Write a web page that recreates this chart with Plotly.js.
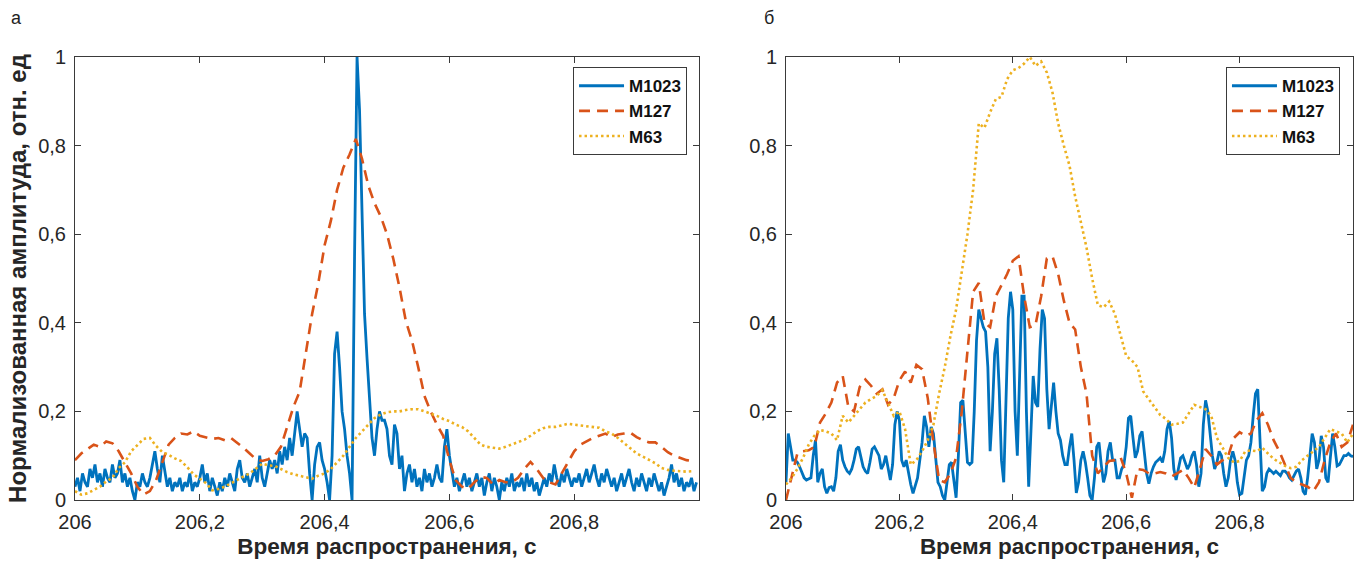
<!DOCTYPE html>
<html>
<head>
<meta charset="utf-8">
<script src="https://cdn.plot.ly/plotly-3.0.1.min.js"></script>
<style>html,body{margin:0;padding:0;background:#fff;}#chart{width:1365px;height:566px;}</style>
</head>
<body>
<div id="chart"></div>
<script>
// ---------- data ----------
const seriesNames = ['M1023', 'M127', 'M63'];
const xTickValsA = [206, 206.2, 206.4, 206.6, 206.8];
const xTickTextA = ['206', '206,2', '206,4', '206,6', '206,8'];
const xTickValsB = [206, 206.2, 206.4, 206.6, 206.8, 207];
const xTickTextB = ['206', '206,2', '206,4', '206,6', '206,8', '207'];
const yTickVals = [0, 0.2, 0.4, 0.6, 0.8, 1];
const yTickText = ['0', '0,2', '0,4', '0,6', '0,8', '1'];
const xTitle = 'Время распространения, с';
const yTitle = 'Нормализованная амплитуда, отн. ед';
const panelLabels = ['а', 'б'];

// time grids: start and sampling step (s)
const tStart = 206;
const stepFine = 0.004;
const stepCoarse = 0.01;

// Panel а
const blueA = [
0.03,0.05,0.02,0.06,0.04,0.03,0.07,0.05,0.08,0.04,
0.06,0.03,0.07,0.05,0.04,0.08,0.05,0.06,0.09,0.04,
0.06,0.03,0.05,0.02,0.00,0.04,0.03,0.06,0.04,0.03,
0.05,0.08,0.11,0.07,0.04,0.10,0.06,0.03,0.05,0.02,
0.04,0.03,0.05,0.02,0.04,0.03,0.06,0.02,0.04,0.03,
0.05,0.08,0.04,0.06,0.02,0.05,0.03,0.01,0.04,0.02,
0.05,0.03,0.06,0.04,0.02,0.07,0.09,0.05,0.04,0.06,
0.03,0.05,0.07,0.04,0.10,0.05,0.03,0.06,0.09,0.07,
0.09,0.06,0.11,0.08,0.12,0.09,0.14,0.10,0.15,0.20,
0.16,0.12,0.15,0.14,0.06,0.00,0.08,0.12,0.13,0.09,
0.07,0.04,0.00,0.10,0.33,0.38,0.30,0.20,0.16,0.10,
0.06,0.00,0.55,1.00,0.88,0.62,0.42,0.32,0.22,0.14,
0.10,0.16,0.20,0.18,0.18,0.16,0.10,0.08,0.17,0.15,
0.07,0.10,0.02,0.06,0.08,0.04,0.07,0.03,0.05,0.02,
0.07,0.04,0.06,0.03,0.05,0.08,0.05,0.04,0.12,0.16,
0.10,0.06,0.03,0.05,0.02,0.04,0.06,0.03,0.05,0.02,
0.04,0.06,0.03,0.05,0.01,0.04,0.06,0.02,0.05,0.03,
0.00,0.04,0.02,0.05,0.03,0.06,0.02,0.04,0.03,0.05,
0.02,0.06,0.03,0.05,0.02,0.04,0.01,0.03,0.05,0.03,
0.06,0.04,0.08,0.05,0.03,0.06,0.04,0.07,0.05,0.03,
0.05,0.04,0.06,0.03,0.05,0.07,0.04,0.06,0.08,0.05,
0.03,0.06,0.04,0.07,0.05,0.03,0.05,0.02,0.04,0.06,
0.03,0.05,0.07,0.04,0.02,0.05,0.03,0.06,0.04,0.02,
0.05,0.03,0.06,0.04,0.02,0.04,0.01,0.03,0.05,0.08,
0.04,0.06,0.03,0.05,0.02,0.04,0.03,0.05,0.02,0.04
];
const redA = [
0.09,0.105,0.115,0.125,0.12,0.132,0.128,0.11,0.085,0.06,
0.03,0.012,0.02,0.045,0.085,0.125,0.14,0.15,0.148,0.155,
0.145,0.142,0.138,0.14,0.135,0.14,0.13,0.118,0.105,0.092,
0.088,0.092,0.1,0.12,0.165,0.21,0.245,0.33,0.42,0.49,
0.575,0.63,0.7,0.75,0.78,0.815,0.77,0.71,0.67,0.64,
0.6,0.545,0.48,0.405,0.36,0.3,0.235,0.2,0.17,0.145,
0.09,0.045,0.03,0.025,0.04,0.052,0.05,0.035,0.045,0.04,
0.04,0.05,0.07,0.086,0.07,0.05,0.04,0.035,0.06,0.083,
0.11,0.125,0.132,0.14,0.145,0.15,0.142,0.148,0.15,0.152,
0.142,0.135,0.13,0.13,0.12,0.108,0.1,0.095,0.09,0.088
];
const yellowA = [
0.02,0.012,0.015,0.022,0.03,0.042,0.05,0.072,0.085,0.11,
0.125,0.138,0.14,0.122,0.108,0.102,0.094,0.088,0.074,0.058,
0.048,0.038,0.022,0.025,0.03,0.038,0.045,0.053,0.06,0.072,
0.082,0.078,0.077,0.07,0.063,0.058,0.055,0.052,0.048,0.055,
0.06,0.07,0.085,0.1,0.12,0.14,0.155,0.17,0.185,0.193,
0.198,0.2,0.2,0.203,0.205,0.205,0.2,0.195,0.19,0.183,
0.178,0.17,0.165,0.155,0.14,0.125,0.12,0.118,0.116,0.12,
0.125,0.13,0.136,0.145,0.155,0.162,0.165,0.165,0.168,0.172,
0.17,0.168,0.167,0.165,0.163,0.155,0.15,0.14,0.128,0.115,
0.105,0.098,0.09,0.083,0.072,0.068,0.066,0.065,0.064,0.065
];

// Panel б
const blueB = [
0.04,0.15,0.12,0.09,0.09,0.085,0.075,0.06,0.05,0.045,
0.048,0.05,0.1,0.135,0.04,0.06,0.07,0.03,0.015,0.028,
0.03,0.02,0.05,0.11,0.125,0.09,0.075,0.065,0.06,0.07,
0.09,0.115,0.12,0.1,0.075,0.065,0.06,0.085,0.115,0.12,
0.11,0.1,0.07,0.08,0.1,0.07,0.045,0.08,0.17,0.2,
0.18,0.09,0.075,0.09,0.06,0.035,0.015,0.03,0.05,0.09,
0.13,0.19,0.165,0.12,0.165,0.15,0.09,0.04,0.03,0.01,
0.0,0.04,0.08,0.085,0.04,0.005,0.1,0.22,0.225,0.15,
0.085,0.08,0.085,0.2,0.36,0.43,0.41,0.39,0.38,0.3,
0.11,0.2,0.33,0.365,0.25,0.09,0.04,0.2,0.41,0.47,
0.43,0.2,0.1,0.28,0.46,0.46,0.2,0.03,0.15,0.28,
0.22,0.21,0.34,0.43,0.41,0.25,0.16,0.22,0.265,0.2,
0.15,0.135,0.1,0.08,0.08,0.12,0.15,0.09,0.016,0.04,
0.09,0.11,0.085,0.05,0.01,0.0,0.05,0.12,0.13,0.08,
0.04,0.06,0.11,0.13,0.09,0.09,0.05,0.05,0.07,0.08,
0.12,0.185,0.19,0.14,0.095,0.11,0.145,0.155,0.11,0.06,
0.037,0.06,0.075,0.085,0.09,0.095,0.085,0.11,0.16,0.178,
0.14,0.07,0.045,0.07,0.095,0.1,0.085,0.07,0.08,0.1,
0.11,0.08,0.03,0.06,0.17,0.225,0.2,0.15,0.1,0.07,
0.085,0.11,0.1,0.06,0.03,0.05,0.09,0.11,0.09,0.04,
0.012,0.015,0.05,0.09,0.1,0.13,0.19,0.24,0.25,0.15,
0.02,0.03,0.06,0.07,0.065,0.06,0.065,0.06,0.055,0.065,
0.065,0.06,0.05,0.045,0.055,0.065,0.07,0.05,0.02,0.012,
0.05,0.11,0.15,0.13,0.07,0.09,0.145,0.12,0.05,0.04,
0.1,0.15,0.12,0.077,0.08,0.09,0.1,0.1,0.105,0.1,
0.098
];
const redB = [
0.0,0.05,0.105,0.11,0.112,0.12,0.175,0.195,0.22,0.265,
0.28,0.21,0.2,0.255,0.272,0.258,0.24,0.25,0.215,0.23,
0.27,0.29,0.265,0.305,0.295,0.23,0.13,0.045,0.04,0.06,
0.095,0.2,0.33,0.47,0.49,0.4,0.39,0.46,0.485,0.51,
0.54,0.55,0.46,0.39,0.395,0.46,0.545,0.55,0.51,0.45,
0.4,0.385,0.3,0.24,0.1,0.06,0.075,0.088,0.09,0.097,
0.06,0.005,0.07,0.068,0.06,0.06,0.063,0.06,0.053,0.06,
0.068,0.05,0.028,0.07,0.115,0.1,0.08,0.09,0.1,0.14,
0.153,0.145,0.15,0.18,0.196,0.17,0.135,0.11,0.08,0.05,
0.04,0.035,0.03,0.02,0.04,0.09,0.13,0.15,0.12,0.13,
0.17
];
const yellowB = [
0.035,0.05,0.07,0.095,0.125,0.145,0.158,0.155,0.15,0.135,
0.19,0.175,0.19,0.205,0.22,0.228,0.235,0.248,0.22,0.19,
0.2,0.16,0.08,0.09,0.11,0.135,0.17,0.24,0.3,0.37,
0.43,0.51,0.6,0.7,0.85,0.84,0.875,0.905,0.91,0.95,
0.97,0.975,0.985,1.0,0.98,0.99,0.965,0.92,0.85,0.8,
0.755,0.685,0.625,0.57,0.5,0.44,0.435,0.448,0.42,0.37,
0.325,0.315,0.3,0.245,0.228,0.21,0.192,0.183,0.17,0.172,
0.175,0.195,0.215,0.21,0.205,0.19,0.14,0.118,0.095,0.085,
0.088,0.11,0.112,0.11,0.118,0.105,0.093,0.085,0.077,0.072,
0.075,0.09,0.1,0.11,0.12,0.14,0.16,0.155,0.15,0.13,
0.15
];

// ---------- build ----------
function grid(n, step) { return Array.from({length: n}, (_, i) => +(tStart + i * step).toFixed(4)); }

const colors = ['#0072BD', '#D95319', '#EDB120'];
const lineStyles = [
  {color: colors[0], width: 2.8, dash: 'solid'},
  {color: colors[1], width: 2.6, dash: '11px,7px'},
  {color: colors[2], width: 2.6, dash: '2.5px,3px'}
];

const panelA = [[blueA, stepFine], [redA, stepCoarse], [yellowA, stepCoarse]];
const panelB = [[blueB, stepFine], [redB, stepCoarse], [yellowB, stepCoarse]];

const traces = [];
panelA.forEach(([ys, st], k) => traces.push({
  type: 'scatter', mode: 'lines', x: grid(ys.length, st), y: ys,
  name: seriesNames[k], line: lineStyles[k], xaxis: 'x', yaxis: 'y', legend: 'legend'
}));
panelB.forEach(([ys, st], k) => traces.push({
  type: 'scatter', mode: 'lines', x: grid(ys.length, st), y: ys,
  name: seriesNames[k], line: lineStyles[k], xaxis: 'x2', yaxis: 'y2', legend: 'legend2'
}));

const fam = '"Liberation Sans", Arial, Helvetica, sans-serif';
const axisCommon = {
  showline: true, mirror: 'ticks', linecolor: '#3a3a3a', linewidth: 1,
  ticks: 'inside', ticklen: 6, tickcolor: '#3a3a3a', tickwidth: 1,
  showgrid: false, zeroline: false, fixedrange: true,
  tickfont: {family: fam, size: 20, color: '#262626'}
};
const xTitleObj = {text: xTitle, font: {family: fam, size: 22.5, color: '#262626', weight: 'bold'}, standoff: 6};

const legendCommon = {
  bgcolor: '#ffffff', bordercolor: '#3a3a3a', borderwidth: 1,
  font: {family: fam, size: 17, color: '#111', weight: 'bold'},
  xanchor: 'right', yanchor: 'top', tracegroupgap: 0, itemwidth: 45
};

const layout = {
  width: 1365, height: 566,
  margin: {l: 75, r: 12, t: 57, b: 66, autoexpand: false},
  paper_bgcolor: '#ffffff', plot_bgcolor: '#ffffff',
  showlegend: true,
  font: {family: fam, color: '#262626'},
  xaxis: Object.assign({}, axisCommon, {domain: [0, 0.48826], range: [206, 207], tickvals: xTickValsA, ticktext: xTickTextA, anchor: 'y', ticklabelstandoff: 4, title: xTitleObj}),
  yaxis: Object.assign({}, axisCommon, {domain: [0, 1], range: [0, 1], tickvals: yTickVals, ticktext: yTickText, anchor: 'x', ticklabelstandoff: 4,
    title: {text: yTitle, font: {family: fam, size: 24, color: '#262626', weight: 'bold'}, standoff: 4}}),
  xaxis2: Object.assign({}, axisCommon, {domain: [0.55634, 1], range: [206, 207], tickvals: xTickValsB, ticktext: xTickTextB, anchor: 'y2', ticklabelstandoff: 4, title: xTitleObj}),
  yaxis2: Object.assign({}, axisCommon, {domain: [0, 1], range: [0, 1], tickvals: yTickVals, ticktext: yTickText, anchor: 'x2', ticklabelstandoff: 4}),
  legend: Object.assign({}, legendCommon, {x: 0.4789, y: 0.977}),
  legend2: Object.assign({}, legendCommon, {x: 0.9898, y: 0.977}),
  annotations: [
    {text: panelLabels[0], xref: 'paper', yref: 'paper', x: -0.052, y: 1.088, xanchor: 'left', yanchor: 'middle', showarrow: false, font: {family: fam, size: 18, color: '#222'}},
    {text: panelLabels[1], xref: 'paper', yref: 'paper', x: 0.5375, y: 1.088, xanchor: 'left', yanchor: 'middle', showarrow: false, font: {family: fam, size: 18, color: '#222'}}
  ]
};

Plotly.newPlot('chart', traces, layout, {displayModeBar: false, staticPlot: true});
</script>
</body>
</html>
